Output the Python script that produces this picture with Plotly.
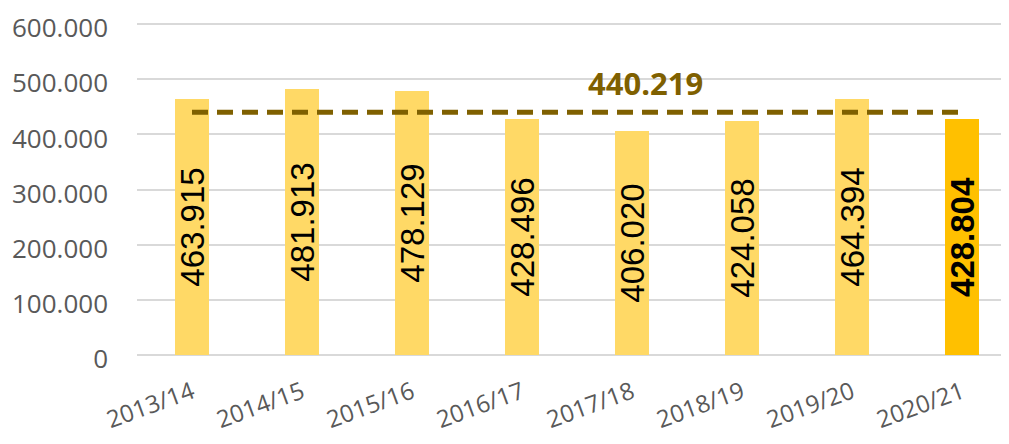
import plotly.graph_objects as go

seasons = ["2013/14", "2014/15", "2015/16", "2016/17", "2017/18", "2018/19", "2019/20", "2020/21"]
values = [463915, 481913, 478129, 428496, 406020, 424058, 464394, 428804]
labels = ["463.915", "481.913", "478.129", "428.496", "406.020", "424.058", "464.394", "<b>428.804</b>"]
average = 440219
average_label = "440.219"
y_ticks = [0, 100000, 200000, 300000, 400000, 500000, 600000]
y_tick_text = ["0", "100.000", "200.000", "300.000", "400.000", "500.000", "600.000"]

bar_colors = ["#FFD966"] * 7 + ["#FFC000"]
FONT = "Open Sans"
LABEL_FONT = "Liberation Sans"

fig = go.Figure()
fig.add_trace(go.Bar(
    x=seasons, y=values, width=0.31,
    marker=dict(color=bar_colors, line=dict(width=0)),
    text=labels, textposition="inside", textangle=-90,
    insidetextanchor="middle", constraintext="none",
    textfont=dict(family=LABEL_FONT, size=33, color="black"),
    hoverinfo="skip",
))
fig.add_trace(go.Scatter(
    x=seasons, y=[average] * len(seasons), mode="lines",
    line=dict(color="#7F6000", width=5, dash="16px,9px"),
    hoverinfo="skip",
))
fig.add_annotation(
    x=4.12, y=average, text="<b>" + average_label + "</b>",
    showarrow=False, yanchor="bottom", yshift=6,
    font=dict(family=FONT, size=31, color="#7F6000"),
)

# page body has an 8px margin, so the figure is shifted by 8px right/down
fig.update_layout(
    width=1001, height=436,
    margin=dict(l=129, r=0, t=14, b=89),
    plot_bgcolor="white", paper_bgcolor="white",
    showlegend=False, bargap=0,
    font=dict(family=FONT, color="#595959"),
)
fig.update_xaxes(
    range=[-0.5, 7.427], tickangle=-20, automargin=False,
    tickfont=dict(family=FONT, size=24, color="#595959"),
    showgrid=False, showline=False, ticks="", ticklabelstandoff=18,
    ticklabeloverflow="allow",
)
fig.update_yaxes(
    range=[0, 604000], tickvals=y_ticks, ticktext=y_tick_text, automargin=False,
    tickfont=dict(family=FONT, size=26, color="#595959"),
    showgrid=True, gridcolor="#D9D9D9", gridwidth=2,
    zeroline=True, zerolinecolor="#D9D9D9", zerolinewidth=2,
    ticks="", ticklabelstandoff=28, ticklabelshift=4, ticklabeloverflow="allow",
)
fig.write_html("out.html")
